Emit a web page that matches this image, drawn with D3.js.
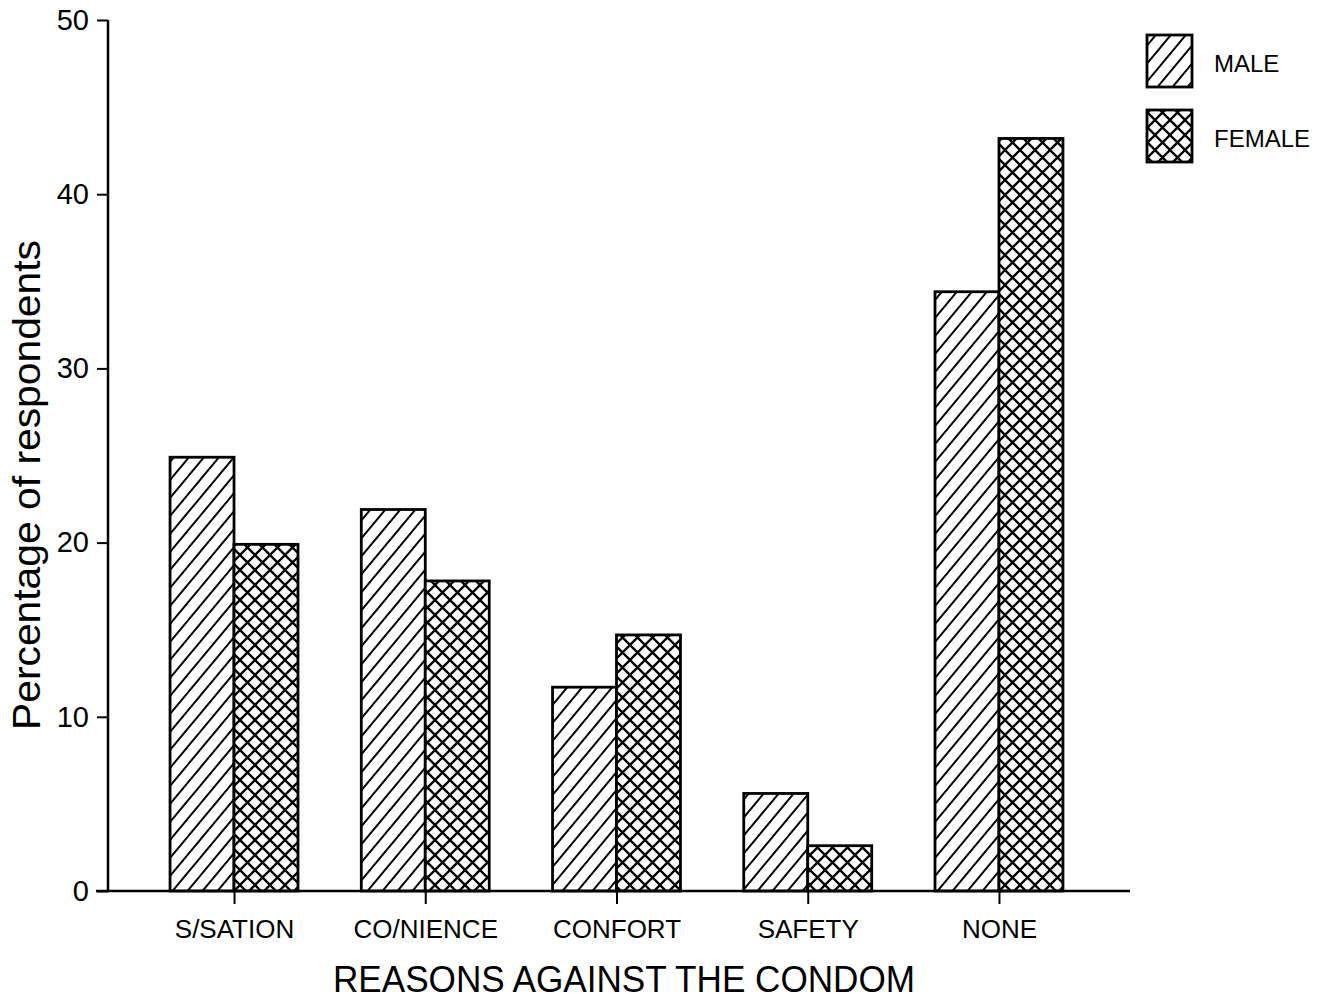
<!DOCTYPE html>
<html>
<head>
<meta charset="utf-8">
<script src="https://cdn.jsdelivr.net/npm/d3@7"></script>
<style>
  html, body { margin: 0; padding: 0; background: #fff; }
  svg { display: block; font-family: "Liberation Sans", Arial, sans-serif; }
</style>
</head>
<body>
<svg id="chart" width="1323" height="1001"></svg>
<script>
const categories = ["S/SATION", "CO/NIENCE", "CONFORT", "SAFETY", "NONE"];
const seriesNames = ["MALE", "FEMALE"];
const maleValues = [24.9, 21.9, 11.7, 5.6, 34.4];
const femaleValues = [19.9, 17.8, 14.7, 2.6, 43.2];
const yTicks = [0, 10, 20, 30, 40, 50];
const xTitle = "REASONS AGAINST THE CONDOM";
const yTitle = "Percentage of respondents";

const svg = d3.select("#chart");
const defs = svg.append("defs");

// hatch patterns
const pm = defs.append("pattern").attr("id", "pat-male")
  .attr("patternUnits", "userSpaceOnUse").attr("width", 15).attr("height", 18);
pm.append("rect").attr("width", 15).attr("height", 18).attr("fill", "#fff");
pm.append("path").attr("d", "M-1.5,1.8 L1.5,-1.8 M0,18 L15,0 M13.5,19.8 L16.5,16.2")
  .attr("stroke", "#000").attr("stroke-width", 2);

const pf = defs.append("pattern").attr("id", "pat-female")
  .attr("patternUnits", "userSpaceOnUse").attr("width", 15).attr("height", 15);
pf.append("rect").attr("width", 15).attr("height", 15).attr("fill", "#fff");
pf.append("path").attr("d", "M-2,2 L2,-2 M0,15 L15,0 M13,17 L17,13 M-2,13 L2,17 M0,0 L15,15 M13,-2 L17,2")
  .attr("stroke", "#000").attr("stroke-width", 2.3);

const fills = { MALE: "url(#pat-male)", FEMALE: "url(#pat-female)" };

const x = d3.scaleBand().domain(categories).range([138.4, 1094.6])
  .paddingInner(0.331).paddingOuter(0.1655);
const xs = d3.scaleBand().domain(seriesNames).range([0, x.bandwidth()]);
const y = d3.scaleLinear().domain([0, 50]).range([891, 20]);

const rows = categories.map((c, i) => ({ cat: c, MALE: maleValues[i], FEMALE: femaleValues[i] }));

// bars
const g = svg.append("g");
rows.forEach(r => {
  seriesNames.forEach(s => {
    g.append("rect")
      .attr("x", x(r.cat) + xs(s))
      .attr("y", y(r[s]))
      .attr("width", xs.bandwidth())
      .attr("height", y(0) - y(r[s]))
      .attr("fill", fills[s])
      .attr("stroke", "#000")
      .attr("stroke-width", 2.8);
  });
});

// y axis
const yAxis = d3.axisLeft(y).tickValues(yTicks).tickSize(11).tickPadding(8).tickFormat(d3.format("d"));
const ya = svg.append("g").attr("transform", "translate(108,0)").call(yAxis);
ya.select(".domain").attr("d", `M0,${y(50)}V${y(0)}`).attr("stroke-width", 2.5);
ya.selectAll(".tick line").attr("stroke-width", 2);
ya.selectAll(".tick text").attr("font-size", 29).attr("fill", "#000")
  .attr("font-family", "Liberation Sans, Arial, sans-serif");

// x axis
const xAxis = d3.axisBottom(d3.scalePoint().domain(categories)
  .range([x(categories[0]) + x.bandwidth() / 2, x(categories[4]) + x.bandwidth() / 2]))
  .tickSize(13).tickPadding(16);
const xa = svg.append("g").attr("transform", `translate(0,${y(0)})`).call(xAxis);
xa.select(".domain").attr("d", "M96,0H1130").attr("stroke-width", 2.5);
xa.selectAll(".tick line").attr("stroke-width", 2);
xa.selectAll(".tick text").attr("font-size", 26).attr("fill", "#000")
  .attr("font-family", "Liberation Sans, Arial, sans-serif");

// axis titles
svg.append("text").attr("x", 624).attr("y", 992).attr("text-anchor", "middle")
  .attr("font-size", 36).attr("textLength", 582).attr("lengthAdjust", "spacingAndGlyphs")
  .text(xTitle);
svg.append("text").attr("transform", "translate(40,485) rotate(-90)")
  .attr("text-anchor", "middle").attr("font-size", 38)
  .attr("textLength", 490).attr("lengthAdjust", "spacingAndGlyphs")
  .text(yTitle);

// legend
const legend = svg.append("g");
const legendY = [35, 110];
seriesNames.forEach((s, i) => {
  legend.append("rect").attr("x", 1147).attr("y", legendY[i]).attr("width", 45).attr("height", 52)
    .attr("fill", fills[s]).attr("stroke", "#000").attr("stroke-width", 2.8);
  legend.append("text").attr("x", 1214).attr("y", legendY[i] + 37)
    .attr("font-size", 24).text(s);
});
</script>
</body>
</html>
